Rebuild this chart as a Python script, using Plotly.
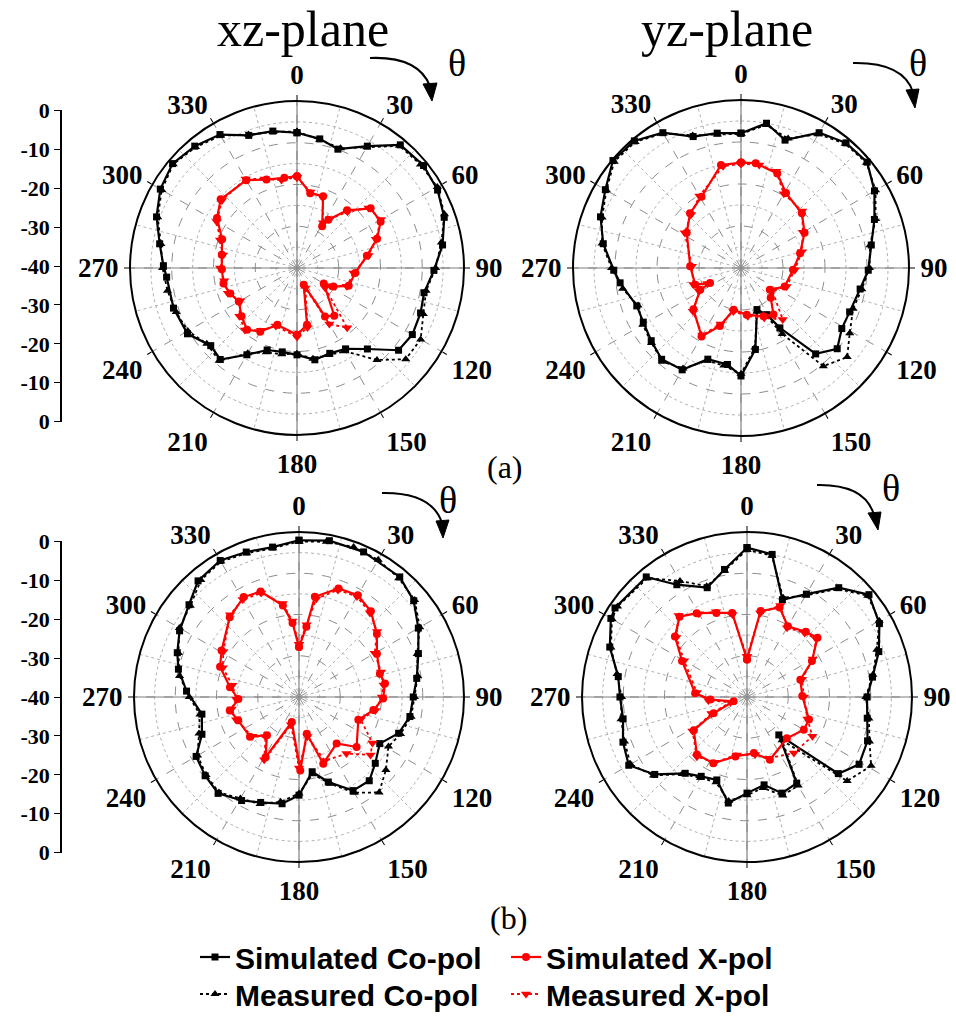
import plotly.graph_objects as go
import numpy as np

W, H = 956, 1018

# ---------------- data (theta in deg, gain in dB) ----------------
# (a) xz-plane
xz_a_sim_co_t = [0, 10, 19, 30, 40, 51, 61, 71, 81, 91, 101, 110, 120, 129, 139, 149, 159, 169, 180, 190, 200, 210, 220, 228, 239, 252, 266, 271, 280, 290, 300, 310, 320, 330, 340, 350, 360]
xz_a_sim_co_r = [-7.6, -8.6, -9.9, -6.3, -1.5, -1.0, -1.5, -2.7, -4.7, -7.2, -9.0, -8.5, -8.1, -8.7, -14.3, -17.4, -18.1, -17.6, -19.2, -19.6, -19.1, -16.0, -11.4, -12.2, -9.4, -8.9, -8.7, -8.0, -6.6, -4.2, -2.2, -1.1, -1.9, -3.1, -6.2, -6.7, -7.6]
xz_a_mea_co_t = [0, 10, 20, 30, 40, 50, 60, 70, 80, 90, 100, 110, 120, 130, 139, 150, 160, 170, 180, 190, 200, 210, 220, 230, 240, 250, 260, 270, 280, 290, 300, 310, 320, 330, 340, 350, 360]
xz_a_mea_co_r = [-7.3, -8.8, -9.5, -6.6, -1.8, -1.4, -1.2, -2.4, -4.9, -6.8, -8.6, -7.8, -5.8, -6.0, -10.8, -17.0, -17.8, -17.9, -19.5, -19.0, -18.5, -16.4, -11.0, -11.8, -9.8, -9.2, -8.5, -7.8, -6.9, -4.5, -2.6, -1.3, -2.2, -3.4, -6.0, -6.9, -7.3]
xz_a_sim_x_t = [0, 10, 20, 31, 33, 41, 51, 61, 70, 80, 95, 109, 117, 120, 142, 150, 158, 170, 180, 199, 210, 219, 229, 240, 249, 258, 269, 280, 291, 302, 312, 330, 341, 352, 360]
xz_a_sim_x_r = [-18.0, -21.8, -21.7, -28.3, -26.2, -21.7, -17.3, -17.1, -19.6, -23.0, -26.0, -26.9, -30.2, -32.6, -25.5, -26.6, -35.7, -26.2, -24.0, -25.6, -22.4, -21.0, -22.4, -23.9, -22.9, -22.0, -22.0, -21.7, -20.8, -17.4, -15.4, -15.7, -17.6, -18.2, -18.0]
xz_a_mea_x_t = [0, 10, 20, 30, 34, 42, 50, 60, 70, 80, 95, 110, 118, 125, 140, 150, 157, 170, 180, 200, 210, 220, 230, 240, 250, 260, 270, 280, 290, 300, 312, 330, 340, 350, 360]
xz_a_mea_x_r = [-18.3, -21.5, -22.0, -27.5, -25.8, -21.9, -17.6, -16.8, -19.9, -22.6, -26.4, -27.3, -31.0, -31.8, -21.3, -24.5, -34.8, -25.5, -23.5, -25.2, -22.8, -20.6, -22.0, -24.3, -22.4, -22.3, -21.6, -22.0, -20.4, -17.8, -15.8, -15.4, -17.3, -18.6, -18.3]

# (a) yz-plane
yz_a_sim_co_t = [0, 10, 19, 30, 40, 50, 60, 70, 80, 91, 100, 112, 121, 130, 139, 147, 151, 159, 170, 180, 188, 200, 210, 221, 231, 241, 250, 263, 269, 280, 290, 300, 310, 320, 330, 340, 350, 360]
yz_a_sim_co_r = [-7.9, -5.0, -7.8, -2.8, -1.1, -0.8, -3.3, -6.2, -8.5, -9.7, -11.2, -12.1, -12.0, -10.1, -12.9, -23.0, -27.3, -29.4, -20.3, -14.3, -16.8, -16.9, -12.0, -11.2, -12.5, -13.4, -13.6, -11.0, -9.7, -6.7, -4.4, -2.7, -0.2, -0.5, -2.8, -6.7, -7.4, -7.9]
yz_a_mea_co_t = [0, 10, 20, 30, 40, 50, 60, 70, 80, 90, 100, 110, 121, 130, 140, 148, 152, 160, 170, 180, 190, 200, 210, 220, 230, 240, 250, 260, 270, 280, 290, 300, 310, 320, 330, 340, 350, 360]
yz_a_mea_co_r = [-8.1, -5.4, -7.2, -3.2, -1.4, -1.0, -3.0, -5.9, -8.8, -9.4, -10.8, -11.6, -9.8, -7.0, -9.5, -21.5, -26.8, -28.9, -20.8, -14.8, -16.4, -16.5, -12.4, -10.9, -12.2, -13.0, -13.9, -11.4, -9.2, -6.4, -4.8, -3.0, -0.6, -0.8, -3.0, -6.4, -7.7, -8.1]
yz_a_sim_x_t = [0, 8, 21, 31, 48, 61, 76, 92, 113, 127, 135, 145, 155, 173, 190, 200, 210, 229, 242, 244, 250, 272, 303, 317, 331, 349, 360]
yz_a_sim_x_r = [-14.9, -14.8, -15.9, -19.2, -20.5, -22.7, -25.5, -27.6, -28.7, -31.4, -30.0, -26.5, -27.3, -28.8, -29.9, -25.3, -21.2, -25.0, -29.0, -31.8, -28.4, -27.9, -24.6, -22.2, -20.6, -15.0, -14.9]
yz_a_mea_x_t = [0, 10, 20, 30, 47, 60, 75, 92, 112, 126, 141, 155, 172, 190, 200, 210, 228, 241, 245, 251, 272, 302, 317, 330, 350, 360]
yz_a_mea_x_r = [-15.2, -15.1, -15.5, -19.6, -20.1, -23.0, -25.0, -27.2, -28.3, -30.8, -24.2, -26.9, -28.4, -29.5, -25.8, -21.6, -24.6, -28.6, -31.2, -28.0, -28.3, -24.2, -22.6, -20.2, -15.4, -15.2]

# (b) xz-plane
xz_b_sim_co_t = [0, 11, 24, 40, 50, 60, 70, 81, 90, 100, 110, 120, 131, 140, 150, 161, 170, 180, 189, 200, 209, 220, 230, 240, 249, 260, 273, 283, 290, 299, 310, 319, 330, 340, 350, 360]
xz_b_sim_co_r = [-2.0, -1.4, -1.5, -2.0, -3.7, -6.6, -9.2, -11.1, -12.3, -12.7, -14.3, -17.4, -15.5, -13.5, -13.8, -18.2, -21.6, -16.2, -13.8, -12.8, -11.3, -9.5, -10.3, -11.2, -14.8, -16.1, -12.7, -10.0, -8.6, -6.9, -5.2, -2.7, -1.8, -2.6, -3.1, -2.0]
xz_b_mea_co_t = [0, 10, 20, 30, 40, 50, 60, 70, 80, 90, 100, 110, 119, 130, 140, 150, 160, 170, 180, 190, 200, 210, 220, 230, 240, 250, 260, 270, 280, 290, 300, 310, 320, 330, 340, 350, 360]
xz_b_mea_co_r = [-2.3, -1.8, -1.3, -1.6, -2.4, -3.4, -6.2, -9.5, -10.8, -12.0, -12.4, -13.8, -15.2, -12.5, -9.8, -13.2, -17.6, -21.0, -16.6, -14.2, -12.4, -11.6, -9.8, -10.6, -11.6, -14.2, -15.6, -13.4, -10.6, -8.9, -6.5, -5.6, -3.0, -2.1, -2.9, -3.4, -2.3]
xz_b_sim_x_t = [0, 6, 9, 20, 30, 40, 51, 61, 74, 81, 91, 100, 111, 131, 141, 160, 168, 179, 196, 209, 220, 231, 249, 259, 268, 278, 291, 301, 319, 331, 340, 350, 355, 360]
xz_b_sim_x_r = [-27.9, -22.9, -15.4, -12.0, -11.5, -12.9, -15.7, -18.4, -19.6, -18.9, -19.6, -21.7, -24.6, -21.5, -25.5, -22.8, -30.9, -22.2, -33.7, -23.3, -27.9, -24.7, -24.2, -22.9, -25.3, -23.1, -19.5, -18.1, -14.4, -12.3, -12.8, -17.5, -22.0, -27.9]
xz_b_mea_x_t = [0, 6, 10, 20, 30, 40, 50, 60, 73, 82, 90, 100, 110, 122, 129, 140, 158, 168, 180, 196, 209, 220, 230, 250, 260, 268, 280, 291, 301, 320, 330, 340, 350, 355, 360]
xz_b_mea_x_r = [-27.2, -22.4, -15.8, -12.4, -11.9, -13.3, -15.3, -18.8, -19.2, -19.3, -19.9, -21.2, -24.1, -19.0, -17.7, -22.1, -23.3, -30.2, -22.8, -33.0, -22.6, -27.4, -25.2, -23.8, -23.4, -24.8, -23.6, -20.2, -18.6, -14.0, -12.7, -13.2, -17.0, -21.5, -27.2]

# (b) yz-plane
yz_b_sim_co_t = [0, 10, 20, 30, 40, 50, 61, 71, 81, 90, 100, 110, 121, 130, 140, 150, 160, 169, 180, 190, 200, 210, 219, 230, 240, 250, 260, 270, 279, 290, 300, 304, 320, 328, 340, 350, 360]
yz_b_sim_co_r = [-3.8, -4.9, -14.9, -11.2, -5.4, -1.4, -3.3, -6.2, -9.2, -10.9, -10.4, -8.9, -8.3, -11.1, -28.0, -15.9, -15.2, -18.3, -16.7, -13.9, -18.6, -17.8, -16.2, -10.8, -6.9, -8.0, -9.5, -9.2, -8.4, -4.6, -1.9, -1.4, -2.0, -7.9, -11.8, -8.6, -3.8]
yz_b_mea_co_t = [0, 10, 20, 30, 40, 50, 60, 70, 80, 90, 100, 110, 119, 130, 141, 150, 160, 170, 180, 190, 200, 210, 220, 230, 240, 250, 260, 270, 280, 290, 300, 305, 320, 330, 340, 350, 360]
yz_b_mea_co_r = [-4.3, -5.2, -14.4, -11.6, -5.8, -1.8, -3.0, -6.5, -9.0, -11.2, -10.0, -8.4, -5.6, -8.3, -26.5, -15.2, -14.6, -17.6, -16.2, -14.4, -18.0, -17.4, -15.6, -10.4, -7.4, -8.4, -9.0, -9.6, -8.0, -4.9, -2.2, -1.7, -2.4, -7.5, -11.4, -8.9, -4.3]
yz_b_sim_x_t = [0, 9, 20, 30, 42, 50, 61, 72, 89, 110, 120, 136, 160, 173, 191, 207, 221, 238, 244, 252, 266, 274, 299, 310, 320, 329, 340, 350, 360]
yz_b_sim_x_r = [-30.9, -18.9, -16.9, -20.2, -18.7, -17.7, -22.0, -26.4, -26.6, -24.0, -24.1, -26.1, -23.8, -26.3, -25.3, -22.0, -21.5, -24.8, -31.0, -36.6, -31.1, -27.4, -22.0, -17.2, -14.6, -16.3, -18.3, -19.3, -30.9]
yz_b_mea_x_t = [0, 9, 20, 30, 42, 50, 60, 72, 90, 110, 121, 140, 160, 172, 190, 206, 220, 238, 245, 252, 265, 275, 300, 310, 320, 330, 340, 350, 360]
yz_b_mea_x_r = [-30.2, -19.4, -16.4, -20.6, -19.1, -18.1, -21.6, -26.0, -26.2, -24.4, -21.5, -22.3, -24.2, -25.9, -25.7, -22.4, -21.1, -24.4, -30.5, -35.8, -30.6, -27.8, -22.4, -17.6, -14.2, -16.7, -18.0, -19.7, -30.2]

angle_tick_vals = [0, 30, 60, 90, 120, 150, 180, 210, 240, 270, 300, 330]
angle_tick_text = ["0", "30", "60", "90", "120", "150", "180", "210", "240", "270", "300", "330"]
scale_tick_vals = [0, 1, 2, 3, 4, 5, 6, 7, 8]
scale_tick_text = ["0", "-10", "-20", "-30", "-40", "-30", "-20", "-10", "0"]

series_names = ["Simulated Co-pol", "Measured Co-pol", "Simulated X-pol", "Measured X-pol"]

panels = [
    ("polar", [(xz_a_sim_co_t, xz_a_sim_co_r), (xz_a_mea_co_t, xz_a_mea_co_r), (xz_a_sim_x_t, xz_a_sim_x_r), (xz_a_mea_x_t, xz_a_mea_x_r)]),
    ("polar2", [(yz_a_sim_co_t, yz_a_sim_co_r), (yz_a_mea_co_t, yz_a_mea_co_r), (yz_a_sim_x_t, yz_a_sim_x_r), (yz_a_mea_x_t, yz_a_mea_x_r)]),
    ("polar3", [(xz_b_sim_co_t, xz_b_sim_co_r), (xz_b_mea_co_t, xz_b_mea_co_r), (xz_b_sim_x_t, xz_b_sim_x_r), (xz_b_mea_x_t, xz_b_mea_x_r)]),
    ("polar4", [(yz_b_sim_co_t, yz_b_sim_co_r), (yz_b_mea_co_t, yz_b_mea_co_r), (yz_b_sim_x_t, yz_b_sim_x_r), (yz_b_mea_x_t, yz_b_mea_x_r)]),
]

# one legend per entry so the 2 x 2 legend grid can be placed exactly
styles = [
    dict(color="black", dash="solid", width=2.2, symbol="square", size=7, legend="legend"),
    dict(color="black", dash="dot", width=1.8, symbol="triangle-up", size=8, legend="legend3"),
    dict(color="#ff0000", dash="solid", width=2.2, symbol="circle", size=8, legend="legend2"),
    dict(color="#ff0000", dash="dot", width=1.8, symbol="triangle-down", size=9, legend="legend4"),
]

fig = go.Figure()

GRID = "#8c8c8c"
for pi, (sp, series) in enumerate(panels):
    ring_t, ring_r = [], []
    circ = list(np.arange(0, 361, 2))
    for rv in (-35, -25, -15, -5):
        ring_t += circ + [None]
        ring_r += [rv] * len(circ) + [None]
    fig.add_trace(go.Scatterpolar(theta=ring_t, r=ring_r, mode="lines", subplot=sp,
                                  line=dict(color="#b0b0b0", width=1, dash="dot"),
                                  showlegend=False, hoverinfo="skip"))
    sp_t, sp_r = [], []
    for a in range(15, 360, 30):
        sp_t += [a, a, None]
        sp_r += [-40, 0, None]
    fig.add_trace(go.Scatterpolar(theta=sp_t, r=sp_r, mode="lines", subplot=sp,
                                  line=dict(color="#b0b0b0", width=1, dash="dot"),
                                  showlegend=False, hoverinfo="skip"))
    fig.add_trace(go.Scatterpolar(theta=[0, 0, 180, None, 90, 90, 270], r=[0, -40, 0, None, 0, -40, 0],
                                  mode="lines", subplot=sp, line=dict(color="#808080", width=1.2),
                                  showlegend=False, hoverinfo="skip"))
    for si, (tt, rr) in enumerate(series):
        st = styles[si]
        fig.add_trace(go.Scatterpolar(
            theta=tt, r=rr, mode="lines+markers", subplot=sp,
            name=series_names[si], legend=st["legend"], showlegend=(pi == 0),
            line=dict(color=st["color"], dash=st["dash"], width=st["width"]),
            marker=dict(color=st["color"], symbol=st["symbol"], size=st["size"]),
        ))

def px_x(x):
    return x / W

def px_y(y):
    return 1 - y / H

def polar_cfg(cx, cy, R):
    return dict(
        domain=dict(x=[px_x(cx - R), px_x(cx + R)], y=[px_y(cy + R), px_y(cy - R)]),
        bgcolor="white",
        radialaxis=dict(range=[-40, 0], tickvals=[-30, -20, -10], showticklabels=False,
                        ticks="", showline=False, gridcolor=GRID, griddash="dash", gridwidth=1),
        angularaxis=dict(rotation=90, direction="clockwise", tickmode="array",
                         tickvals=angle_tick_vals, ticktext=angle_tick_text,
                         tickfont=dict(family="Liberation Serif", size=27, color="black", weight="bold"),
                         showline=True, linecolor="black", linewidth=2,
                         gridcolor=GRID, griddash="dash", gridwidth=1,
                         ticks="outside", ticklen=5, tickcolor="black"),
    )

fig.add_trace(go.Scatter(x=[None], y=[None], xaxis="x", yaxis="y", showlegend=False, hoverinfo="skip"))
fig.add_trace(go.Scatter(x=[None], y=[None], xaxis="x2", yaxis="y2", showlegend=False, hoverinfo="skip"))

scale_axis = dict(range=[-0.01, 8.01], tickmode="array", tickvals=scale_tick_vals, ticktext=scale_tick_text,
                  showline=True, linecolor="black", linewidth=1.5, ticks="outside", ticklen=6,
                  tickcolor="black", showgrid=False, zeroline=False,
                  tickfont=dict(family="Liberation Serif", size=22, color="black", weight="bold"))

shapes = []
annotations = []

def curve_arrow(x0, y0, cx, cy, x1, y1, tri):
    shapes.append(dict(type="path", xref="paper", yref="paper",
                       path=f"M {px_x(x0)},{px_y(y0)} Q {px_x(cx)},{px_y(cy)} {px_x(x1)},{px_y(y1)}",
                       line=dict(color="black", width=2)))
    p = " L ".join(f"{px_x(a)},{px_y(b)}" for a, b in tri)
    shapes.append(dict(type="path", xref="paper", yref="paper", path=f"M {p} Z",
                       fillcolor="black", line=dict(color="black", width=1)))

curve_arrow(370, 58, 418, 56, 430, 86, [(423, 84), (437, 83), (432, 101)])
curve_arrow(853, 63, 903, 62, 913, 92, [(906, 90), (919, 89), (915, 108)])
curve_arrow(382, 493, 432, 492, 442, 523, [(436, 521), (449, 520), (443, 538)])
curve_arrow(817, 485, 865, 484, 874, 515, [(868, 513), (881, 512), (878, 530)])

def text(x, y, s, size, family="Liberation Serif", weight="normal"):
    annotations.append(dict(x=px_x(x), y=px_y(y), xref="paper", yref="paper", text=s, showarrow=False,
                            xanchor="center", yanchor="middle",
                            font=dict(family=family, size=size, color="black", weight=weight)))

text(303, 29, "xz-plane", 50)
text(727, 29, "yz-plane", 50)
text(457, 63, "θ", 38)
text(918, 63, "θ", 38)
text(448, 500, "θ", 38)
text(891, 488, "θ", 38)
text(505, 467, "(a)", 32)
text(508, 918, "(b)", 32)

leg_font = dict(family="Liberation Sans", size=30, color="black", weight="bold")

def leg(x, y):
    return dict(orientation="h", x=px_x(x), y=px_y(y), xanchor="left", yanchor="middle",
                font=leg_font, bgcolor="rgba(0,0,0,0)", borderwidth=0)

fig.update_layout(
    width=W, height=H, margin=dict(l=0, r=0, t=0, b=0, autoexpand=False),
    paper_bgcolor="white", plot_bgcolor="white",
    polar=polar_cfg(297, 268, 167),
    polar2=polar_cfg(741, 268, 168),
    polar3=polar_cfg(299, 697, 165),
    polar4=polar_cfg(747, 697, 165),
    xaxis=dict(domain=[px_x(62), px_x(70)], visible=False),
    yaxis=dict(scale_axis, anchor="x", domain=[px_y(422), px_y(110)]),
    xaxis2=dict(domain=[px_x(62), px_x(70)], visible=False, anchor="y2"),
    yaxis2=dict(scale_axis, anchor="x2", domain=[px_y(853), px_y(541)]),
    legend=leg(195, 957),
    legend2=leg(506, 957),
    legend3=leg(195, 994),
    legend4=leg(506, 994),
    shapes=shapes, annotations=annotations, showlegend=True,
)

fig.write_html("out.html", config={"displayModeBar": False},
               post_script="document.body.style.margin='0';document.body.style.overflow='hidden';")
